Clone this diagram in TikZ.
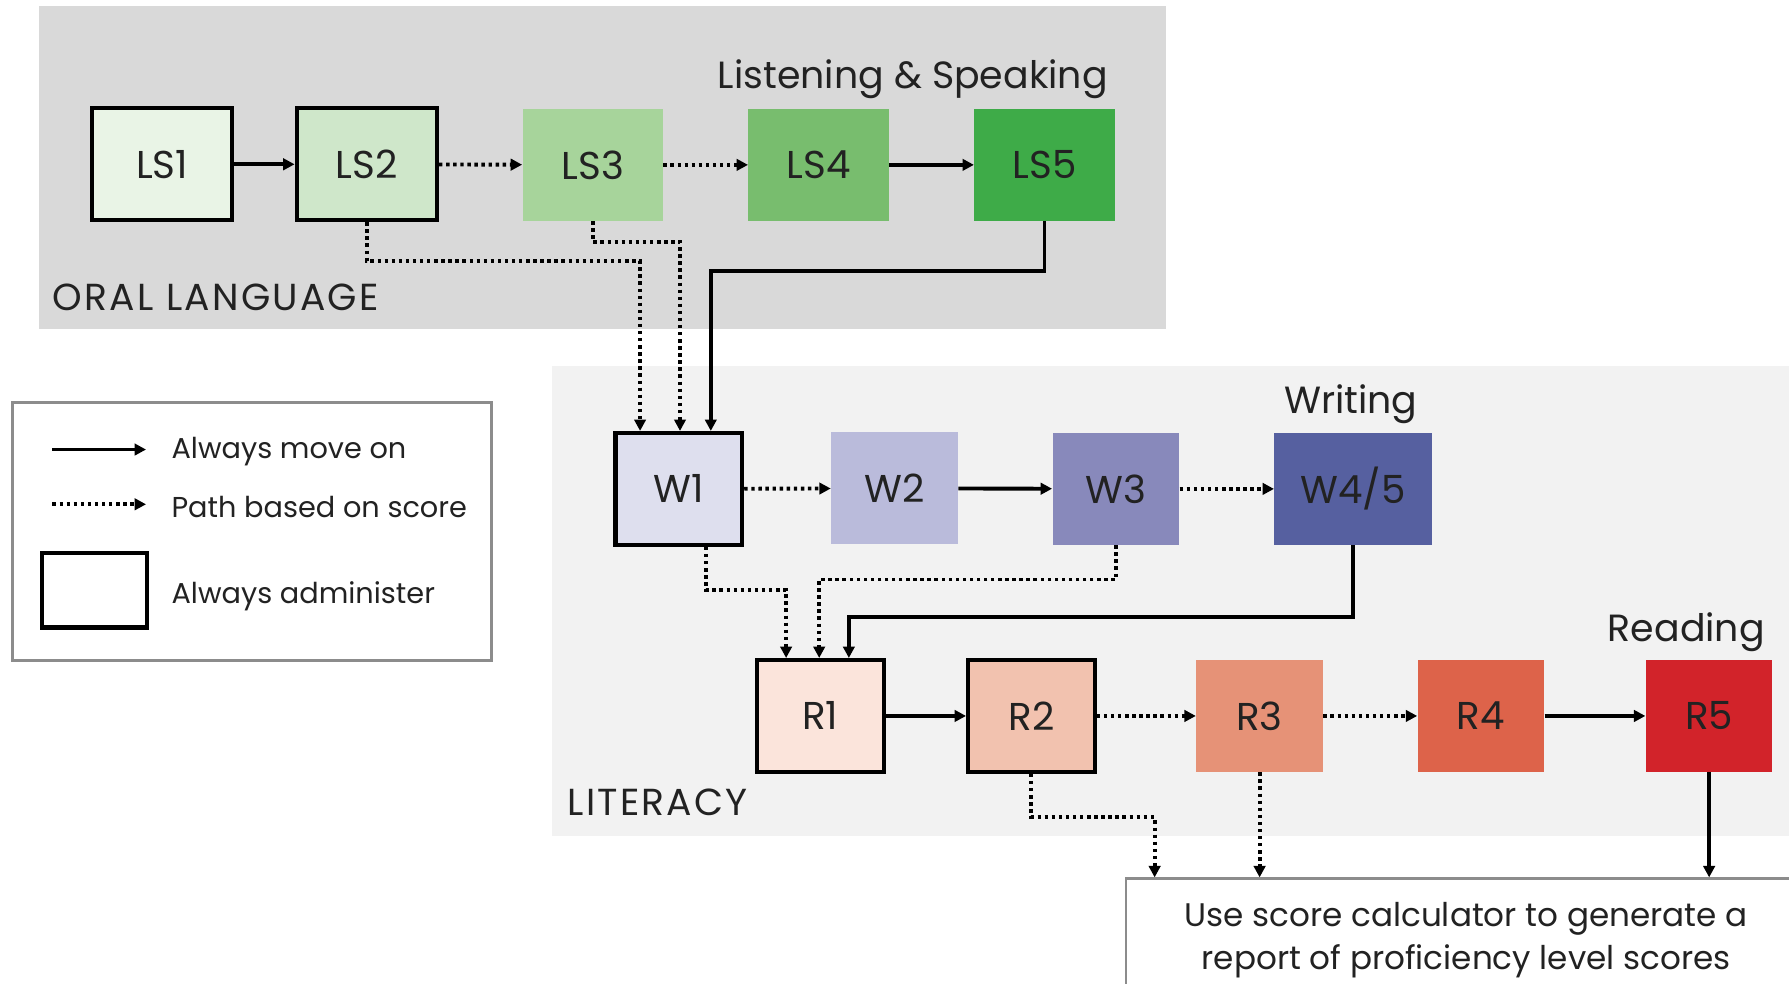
\documentclass[tikz,border=0pt]{standalone}
\usepackage{fontspec}
\setmainfont{Poppins}
\usetikzlibrary{arrows.meta, positioning, shapes}

\definecolor{oralbg}{HTML}{D9D9D9}
\definecolor{litbg}{HTML}{F2F2F2}
\definecolor{lsA}{HTML}{E9F4E6}
\definecolor{lsB}{HTML}{CFE7CA}
\definecolor{lsC}{HTML}{A7D49B}
\definecolor{lsD}{HTML}{78BD6E}
\definecolor{lsE}{HTML}{3EAB48}
\definecolor{wA}{HTML}{DEDFEE}
\definecolor{wB}{HTML}{BABBDB}
\definecolor{wC}{HTML}{8889BB}
\definecolor{wD}{HTML}{5660A0}
\definecolor{rA}{HTML}{FBE4DB}
\definecolor{rB}{HTML}{F2C2AF}
\definecolor{rC}{HTML}{E69277}
\definecolor{rD}{HTML}{DD634A}
\definecolor{rE}{HTML}{D2232A}
\definecolor{inkgray}{HTML}{222222}
\definecolor{framegray}{HTML}{8C8C8C}

\begin{document}
\begin{tikzpicture}[
    x=0.5pt, y=-0.5pt,
    >={Triangle[length=5pt, width=5pt]},
    task/.style={rectangle, minimum width=61.5pt, minimum height=49pt, inner sep=0pt, text centered, font=\fontsize{17}{20}\selectfont, text=inkgray},
    taskw/.style={task, minimum width=55.5pt},
    admin/.style={draw=black, line width=1.8pt},
    move/.style={->, line width=1.7pt},
    score/.style={->, line width=1.7pt, dash pattern=on 1.5pt off 1.6pt},
    strand/.style={font=\fontsize{16.6}{20}\selectfont, text=inkgray, inner sep=0pt},
    area/.style={font=\fontsize{16.5}{20}\selectfont\addfontfeature{LetterSpace=6}, text=inkgray, inner sep=0pt, anchor=west},
    legtext/.style={font=\fontsize{12.6}{16}\selectfont, text=inkgray, inner sep=0pt, anchor=west}
]
\useasboundingbox (0,0) rectangle (1568,862);
% Areas
\fill[oralbg] (34,5) rectangle (1022,288);
\fill[litbg] (484,321) rectangle (1568,733);
\node[area] (oral) at (46,261) {ORAL LANGUAGE};
\node[area] (literacy) at (497,703) {LITERACY};

% Listening & Speaking
\node[task, admin, fill=lsA] (LS1) at (142,144) {LS1};
\node[task, admin, fill=lsB] (LS2) at (321.5,144) {LS2};
\node[task, fill=lsC] (LS3) at (519.5,144.5) {LS3};
\node[task, fill=lsD] (LS4) at (717.5,144.5) {LS4};
\node[task, fill=lsE] (LS5) at (915.5,144.5) {LS5};
\node[strand] (lslabel) at (800,69) {Listening \& Speaking};

% Writing
\node[taskw, admin, fill=wA] (W1) at (595,428.5) {W1};
\node[taskw, fill=wB] (W2) at (784,428) {W2};
\node[taskw, fill=wC] (W3) at (978,428.5) {W3};
\node[task, minimum width=69pt, fill=wD] (W45) at (1186,428.5) {W4/5};
\node[strand] (wlabel) at (1184,354) {Writing};

% Reading
\node[taskw, admin, fill=rA] (R1) at (719,627.5) {R1};
\node[taskw, admin, fill=rB] (R2) at (904,627.5) {R2};
\node[taskw, fill=rC] (R3) at (1104,627.5) {R3};
\node[taskw, fill=rD] (R4) at (1298,627.5) {R4};
\node[taskw, fill=rE] (R5) at (1498,627.5) {R5};
\node[strand] (rlabel) at (1478,554) {Reading};

% Report
\node[rectangle, draw=framegray, line width=1pt, fill=white, minimum width=298pt, minimum height=54pt, align=center, font=\fontsize{14.3}{18.5}\selectfont, text=inkgray] (report) at (1285,824) {Use score calculator to generate a\\report of proficiency level scores};

% Paths along each strand
\draw[move] (LS1) -- (LS2);
\draw[score] (LS2) -- (LS3);
\draw[score] (LS3) -- (LS4);
\draw[move] (LS4) -- (LS5);
\draw[score] (W1) -- (W2);
\draw[move] (W2) -- (W3);
\draw[score] (W3) -- (W45);
\draw[move] (R1) -- (R2);
\draw[score] (R2) -- (R3);
\draw[score] (R3) -- (R4);
\draw[move] (R4) -- (R5);

% Oral language into writing
\draw[score] (LS2.south) -- ++(0,34) -| ([xshift=-17pt]W1.north);
\draw[score] (LS3.south) -- ++(0,18) -| ([xshift=0.5pt]W1.north);
\draw[move] (LS5.south) -- ++(0,44) -| ([xshift=14pt]W1.north);

% Writing into reading
\draw[score] ([xshift=12pt]W1.south) -- ++(0,38) -| ([xshift=-15pt]R1.north);
\draw[score] (W3.south) -- ++(0,30) -| ([xshift=-0.5pt]R1.north);
\draw[move] (W45.south) -- ++(0,63) -| ([xshift=12.5pt]R1.north);

% Reading into report
\draw[score] (R2.south) -- ++(0,38) -| ([xshift=13pt]report.north west);
\draw[score] (R3.south) -- (R3.south |- report.north);
\draw[move] (R5.south) -- (R5.south |- report.north);

% Legend
\node[rectangle, draw=framegray, line width=1.5pt, minimum width=210pt, minimum height=113pt] (legend) at (221,466) {};
\coordinate (movefrom) at (46,394);
\coordinate (moveto) at (128,394);
\coordinate (scorefrom) at (46,442);
\coordinate (scoreto) at (128,442);
\draw[move] (movefrom) -- (moveto);
\draw[score] (scorefrom) -- (scoreto);
\node[rectangle, admin, minimum width=46pt, minimum height=32.5pt] (adminkey) at (83,517.5) {};
\node[legtext] (movetext) at (150,396) {Always move on};
\node[legtext] (scoretext) at (150,444) {Path based on score};
\node[legtext] (admintext) at (150,523) {Always administer};
\end{tikzpicture}
\end{document}
